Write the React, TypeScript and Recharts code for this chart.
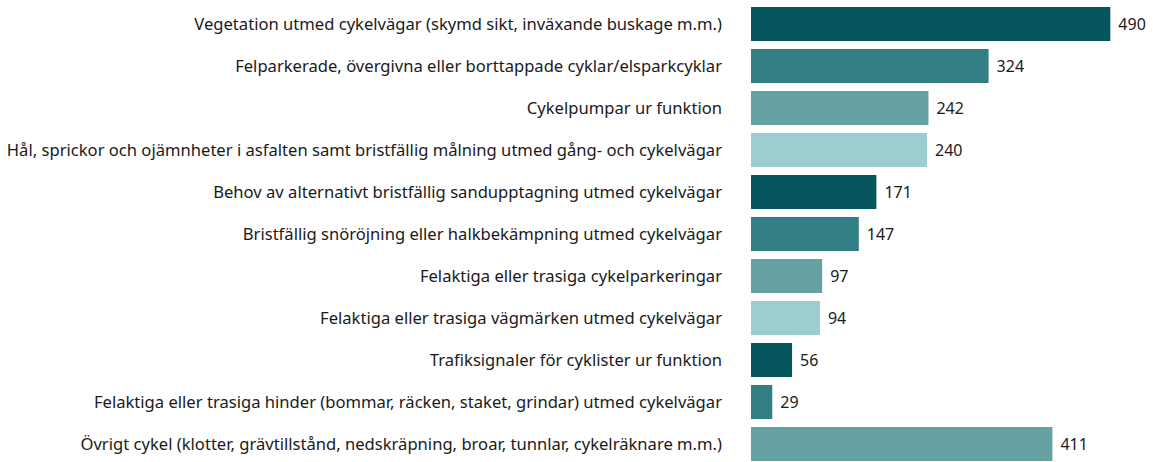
import { BarChart, Bar, XAxis, YAxis, Cell, LabelList } from "recharts";

const categories = [
  "Vegetation utmed cykelvägar (skymd sikt, inväxande buskage m.m.)",
  "Felparkerade, övergivna eller borttappade cyklar/elsparkcyklar",
  "Cykelpumpar ur funktion",
  "Hål, sprickor och ojämnheter i asfalten samt bristfällig målning utmed gång- och cykelvägar",
  "Behov av alternativt bristfällig sandupptagning utmed cykelvägar",
  "Bristfällig snöröjning eller halkbekämpning utmed cykelvägar",
  "Felaktiga eller trasiga cykelparkeringar",
  "Felaktiga eller trasiga vägmärken utmed cykelvägar",
  "Trafiksignaler för cyklister ur funktion",
  "Felaktiga eller trasiga hinder (bommar, räcken, staket, grindar) utmed cykelvägar",
  "Övrigt cykel (klotter, grävtillstånd, nedskräpning, broar, tunnlar, cykelräknare m.m.)",
];

const counts = [490, 324, 242, 240, 171, 147, 97, 94, 56, 29, 411];

const palette = ["#07565e", "#317f85", "#65a0a3", "#9dcdd1"];

const data = categories.map((name, i) => ({ name, value: counts[i] }));

const font = "'Noto Sans', sans-serif";

export default function App() {
  return (
    <div style={{ position: "absolute", left: 0, top: 0 }}>
      <BarChart
        width={1153}
        height={465}
        data={data}
        layout="vertical"
        margin={{ top: 3, right: 6, bottom: 0, left: 0 }}
        barCategoryGap={4}
      >
        <XAxis type="number" domain={[0, 540]} hide />
        <YAxis
          type="category"
          dataKey="name"
          width={751}
          axisLine={false}
          tickLine={false}
          tickSize={0}
          tickMargin={29}
          interval={0}
          tick={{ fill: "#1a1a1a", fontSize: 16.6, fontFamily: font }}
        />
        <Bar dataKey="value" isAnimationActive={false}>
          {data.map((d, i) => (
            <Cell key={d.name} fill={palette[i % palette.length]} />
          ))}
          <LabelList
            dataKey="value"
            position="right"
            offset={8}
            style={{ fill: "#1a1a1a", fontSize: 16, fontFamily: font }}
          />
        </Bar>
      </BarChart>
    </div>
  );
}
